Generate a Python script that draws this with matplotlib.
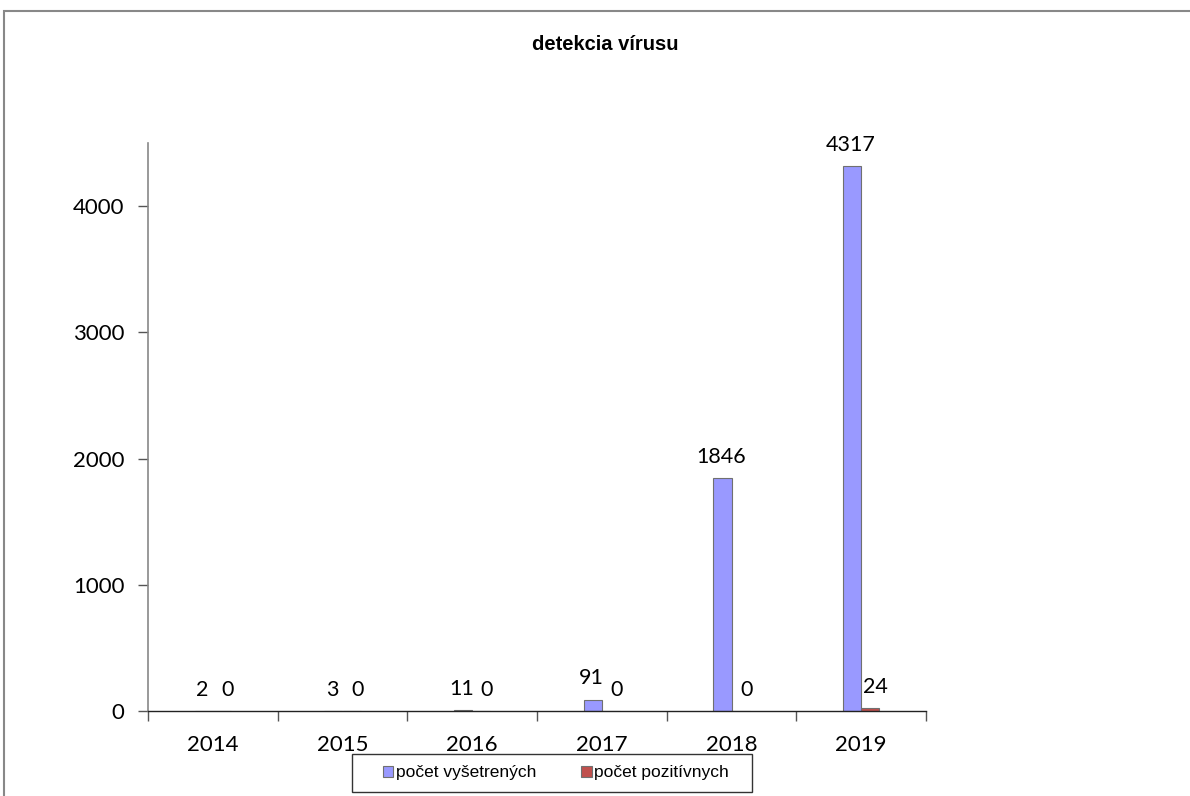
import numpy as np
import matplotlib
matplotlib.use("Agg")
from matplotlib import pyplot as plt
from matplotlib.patches import Rectangle

# data
years = ['2014', '2015', '2016', '2017', '2018', '2019']
vysetrenych = [2, 3, 11, 91, 1846, 4317]
pozitivnych = [0, 0, 0, 0, 0, 24]

blue = '#9999FF'
red = '#C0504D'
num_font = 'Lato'

fig = plt.figure(figsize=(11.9, 7.96), dpi=100)

# outer chart frame (gray, runs off the right/bottom edge)
fig.patches.append(Rectangle((4 / 1190, -0.05), 1.1, 1 - 11 / 796 + 0.05,
                             transform=fig.transFigure, fill=False,
                             edgecolor='#888888', linewidth=1.5))

ax = fig.add_axes([148 / 1190, 85 / 796, 778 / 1190, 568 / 796])

x = np.arange(len(years))
w = 0.139
b1 = ax.bar(x - w / 2, vysetrenych, w, color=blue, edgecolor='#707070', linewidth=0.8,
            label='počet vyšetrených')
b2 = ax.bar(x + w / 2, pozitivnych, w, color=red, edgecolor='#707070', linewidth=0.8,
            label='počet pozitívnych')

for rect, v in zip(b1, vysetrenych):
    ax.annotate(str(v), (rect.get_x() + rect.get_width() / 2, v), xytext=(-1, 8),
                textcoords='offset points', ha='center', va='bottom',
                fontsize=15.5, family=num_font)
for rect, v in zip(b2, pozitivnych):
    ax.annotate(str(v), (rect.get_x() + rect.get_width() / 2, v), xytext=(4, 8),
                textcoords='offset points', ha='center', va='bottom',
                fontsize=15.5, family=num_font)

ax.set_xlim(-0.5, len(years) - 0.5)
ax.set_ylim(0, 4500)
ax.set_yticks([0, 1000, 2000, 3000, 4000])
ax.set_xticks(x)
ax.set_xticklabels(years)
ax.set_xticks(np.arange(len(years) + 1) - 0.5, minor=True)
ax.tick_params(axis='x', which='major', length=0, pad=17)
ax.tick_params(axis='x', which='minor', length=7, color='#555555', width=1)
ax.tick_params(axis='y', length=7, color='#555555', width=1, pad=10)
for lab in ax.get_xticklabels() + ax.get_yticklabels():
    lab.set_fontsize(16)
    lab.set_family(num_font)

ax.spines['top'].set_visible(False)
ax.spines['right'].set_visible(False)
ax.spines['left'].set_color('#888888')
ax.spines['left'].set_linewidth(1.2)
ax.spines['bottom'].set_color('#222222')
ax.spines['bottom'].set_linewidth(1.0)

fig.text(605 / 1190, 1 - 44 / 796, 'detekcia vírusu', ha='center', va='center',
         fontsize=14.5, fontweight='bold', family='Liberation Sans')

# legend without its own frame, box drawn separately (wider padding like Excel)
leg = fig.legend(loc='center', bbox_to_anchor=(556 / 1190, 1 - 773 / 796), ncol=2,
                 frameon=False,
                 prop={'family': 'Liberation Sans', 'size': 12.5},
                 handlelength=0.6, handleheight=0.6, handletextpad=0.15,
                 columnspacing=2.6, borderpad=0.6)
fig.patches.append(Rectangle((352 / 1190, 1 - 792 / 796), 400 / 1190, 38 / 796,
                             transform=fig.transFigure, fill=False,
                             edgecolor='#333333', linewidth=1.0))

fig.savefig('out.png', dpi=100)
